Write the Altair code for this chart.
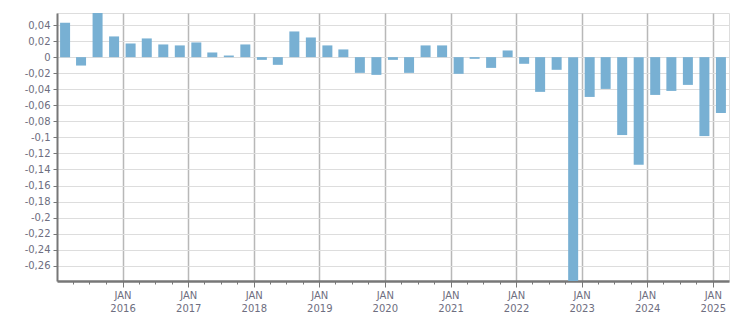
import altair as alt
import pandas as pd

# Quarters Q1 2015 .. Q1 2025
years = list(range(2015, 2026))
quarters = [f"{y}-Q{q}" for y in years for q in (1, 2, 3, 4)][:41]

values = [
    0.043, -0.0105, 0.056, 0.0258,
    0.017, 0.0233, 0.0158, 0.0146,
    0.0183, 0.0058, 0.002, 0.0158,
    -0.0034, -0.0096, 0.032, 0.0245,
    0.0146, 0.0096, -0.0196, -0.0221,
    -0.0034, -0.0196, 0.0146, 0.0146,
    -0.0208, -0.0021, -0.0134, 0.0083,
    -0.0083, -0.0433, -0.0158, -0.30,
    -0.0496, -0.0396, -0.0971, -0.134,
    -0.0471, -0.0421, -0.0346, -0.0984,
    -0.0696,
]

y_ticks = [0.04, 0.02, 0, -0.02, -0.04, -0.06, -0.08, -0.1, -0.12, -0.14,
           -0.16, -0.18, -0.2, -0.22, -0.24, -0.26]


def mid_quarter(qs):
    y, q = qs.split("-Q")
    m = 3 * (int(q) - 1) + 2
    return f"{y}-{m:02d}-15"


df = pd.DataFrame({"date": [mid_quarter(q) for q in quarters], "value": values})

tick_dates = [alt.DateTime(year=y, month=m, date=1, utc=True)
              for y in years for m in (1, 4, 7, 10)
              if (y, m) != (2015, 1) and (y < 2025 or m == 1)]

FONT = "DejaVu Sans"
TXT = "#6e6e80"
is_jan = "utcmonth(datum.value) == 0"

chart = alt.Chart(df).mark_bar(size=10, color="#78b0d3", clip=True).encode(
    x=alt.X(
        "date:T",
        scale=alt.Scale(
            type="utc",
            padding=0,
            domain=[alt.DateTime(year=2015, month=1, date=1, utc=True),
                    alt.DateTime(year=2025, month=4, date=1, utc=True)],
        ),
        axis=alt.Axis(
            values=tick_dates,
            labelExpr=is_jan + " ? ['JAN', utcFormat(datum.value, '%Y')] : ''",
            tickSize={"condition": {"test": is_jan, "value": 6}, "value": 3},
            gridOpacity={"condition": {"test": is_jan, "value": 1}, "value": 0},
            gridColor="#b8b8b8",
            gridWidth=1.5,
            domainColor="#777777",
            domainWidth=2.5,
            tickColor="#777777",
            tickWidth=1,
            labelColor=TXT,
            labelFont=FONT,
            labelFontSize=10,
            labelLineHeight=13,
            labelPadding=3,
            labelOverlap=False,
            labelFlush=False,
            labelBound=False,
            title=None,
        ),
    ),
    y=alt.Y(
        "value:Q",
        scale=alt.Scale(domain=[-0.279, 0.055], nice=False, zero=False, padding=0),
        axis=alt.Axis(
            values=y_ticks,
            labelExpr="replace(replace(format(datum.value, '.2~f'), '.', ','), '\u2212', '-')",
            gridColor="#dddddd",
            gridWidth=1.2,
            domainColor="#777777",
            domainWidth=2,
            tickColor="#777777",
            tickSize=4,
            labelColor=TXT,
            labelFont=FONT,
            labelFontSize=10,
            labelPadding=3,
            labelOverlap=False,
            title=None,
        ),
    ),
).properties(
    width=672,
    height=268,
    autosize=alt.AutoSizeParams(type="none"),
    padding={"left": 57, "top": 13, "right": 22, "bottom": 32},
).configure_view(stroke="#dddddd", strokeWidth=1)

chart.save("out.html", embed_options={"renderer": "svg", "actions": False})
